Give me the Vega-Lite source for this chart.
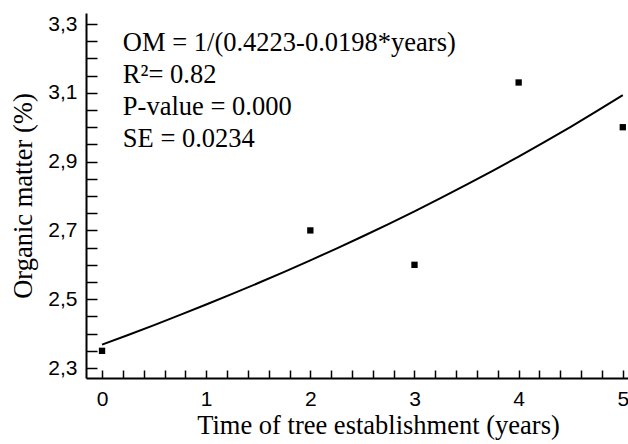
{
  "$schema": "https://vega.github.io/schema/vega-lite/v6.json",
  "width": 542,
  "height": 365,
  "autosize": {"type": "none"},
  "padding": {"left": 86, "top": 13, "right": 0, "bottom": 66},
  "background": "white",
  "config": {
    "view": {"stroke": null},
    "axis": {
      "grid": false,
      "domainColor": "black",
      "domainWidth": 2,
      "ticks": true,
      "tickColor": "black",
      "tickWidth": 1.5,
      "labelFont": "Liberation Sans",
      "labelFontSize": 21,
      "labelColor": "black",
      "titleFont": "Liberation Serif",
      "titleFontWeight": "normal",
      "titleFontSize": 26.5,
      "titleColor": "black"
    }
  },
  "datasets": {
    "curve": [
      {"years": 0, "om": 2.3680},
      {"years": 0.25, "om": 2.3961},
      {"years": 0.5, "om": 2.4248},
      {"years": 0.75, "om": 2.4543},
      {"years": 1, "om": 2.4845},
      {"years": 1.25, "om": 2.5154},
      {"years": 1.5, "om": 2.5471},
      {"years": 1.75, "om": 2.5796},
      {"years": 2, "om": 2.6130},
      {"years": 2.25, "om": 2.6473},
      {"years": 2.5, "om": 2.6824},
      {"years": 2.75, "om": 2.7185},
      {"years": 3, "om": 2.7556},
      {"years": 3.25, "om": 2.7937},
      {"years": 3.5, "om": 2.8329},
      {"years": 3.75, "om": 2.8731},
      {"years": 4, "om": 2.9146},
      {"years": 4.25, "om": 2.9573},
      {"years": 4.5, "om": 3.0012},
      {"years": 4.75, "om": 3.0465},
      {"years": 5, "om": 3.0931}
    ],
    "obs": [
      {"years": 0, "om": 2.35},
      {"years": 2, "om": 2.70},
      {"years": 3, "om": 2.60},
      {"years": 4, "om": 3.13},
      {"years": 5, "om": 3.00}
    ],
    "notes": [
      {"years": 0.2, "om": 3.222, "label": "OM = 1/(0.4223-0.0198*years)"},
      {"years": 0.2, "om": 3.128, "label": "R²= 0.82"},
      {"years": 0.2, "om": 3.035, "label": "P-value = 0.000"},
      {"years": 0.2, "om": 2.943, "label": "SE = 0.0234"}
    ]
  },
  "layer": [
    {
      "data": {"name": "curve"},
      "mark": {"type": "line", "color": "black", "strokeWidth": 2, "clip": true},
      "encoding": {
        "x": {
          "field": "years", "type": "quantitative",
          "scale": {"domain": [-0.154, 5.05], "nice": false, "zero": false},
          "axis": {
            "title": "Time of tree establishment (years)",
            "values": [0,0.2,0.4,0.6,0.8,1,1.2,1.4,1.6,1.8,2,2.2,2.4,2.6,2.8,3,3.2,3.4,3.6,3.8,4,4.2,4.4,4.6,4.8,5],
            "tickCount": 200,
            "tickSize": -8,
            "labelExpr": "datum.value % 1 == 0 ? format(datum.value, 'd') : ''",
            "encode": {"ticks": {"update": {"y2": {"signal": "datum.value % 1 == 0 ? -8 : -4"}}}},
            "labelPadding": 18,
            "titlePadding": 3,
            "titleX": 292,
            "titleAnchor": "middle",
            "labelFlush": false,
            "labelOverlap": false
          }
        },
        "y": {
          "field": "om", "type": "quantitative",
          "scale": {"domain": [2.271, 3.332], "nice": false, "zero": false},
          "axis": {
            "title": "Organic matter (%)",
            "values": [2.3,2.35,2.4,2.45,2.5,2.55,2.6,2.65,2.7,2.75,2.8,2.85,2.9,2.95,3,3.05,3.1,3.15,3.2,3.25,3.3],
            "tickCount": 200,
            "tickSize": -11,
            "labelExpr": "indexof([2.3,2.5,2.7,2.9,3.1,3.3], datum.value) >= 0 ? replace(format(datum.value, '.1f'), '.', ',') : ''",
            "encode": {"ticks": {"update": {"x2": {"signal": "indexof([2.3,2.5,2.7,2.9,3.1,3.3], datum.value) >= 0 ? 11 : 6"}}}},
            "labelPadding": 20,
            "titlePadding": 10,
            "labelFlush": false,
            "labelOverlap": false
          }
        }
      }
    },
    {
      "data": {"name": "obs"},
      "mark": {"type": "point", "shape": "square", "filled": true, "color": "black", "size": 40, "opacity": 1},
      "encoding": {
        "x": {"field": "years", "type": "quantitative"},
        "y": {"field": "om", "type": "quantitative"}
      }
    },
    {
      "data": {"name": "notes"},
      "mark": {"type": "text", "align": "left", "baseline": "alphabetic", "font": "Liberation Serif", "fontSize": 26.5, "color": "black"},
      "encoding": {
        "x": {"field": "years", "type": "quantitative"},
        "y": {"field": "om", "type": "quantitative"},
        "text": {"field": "label"}
      }
    }
  ]
}
